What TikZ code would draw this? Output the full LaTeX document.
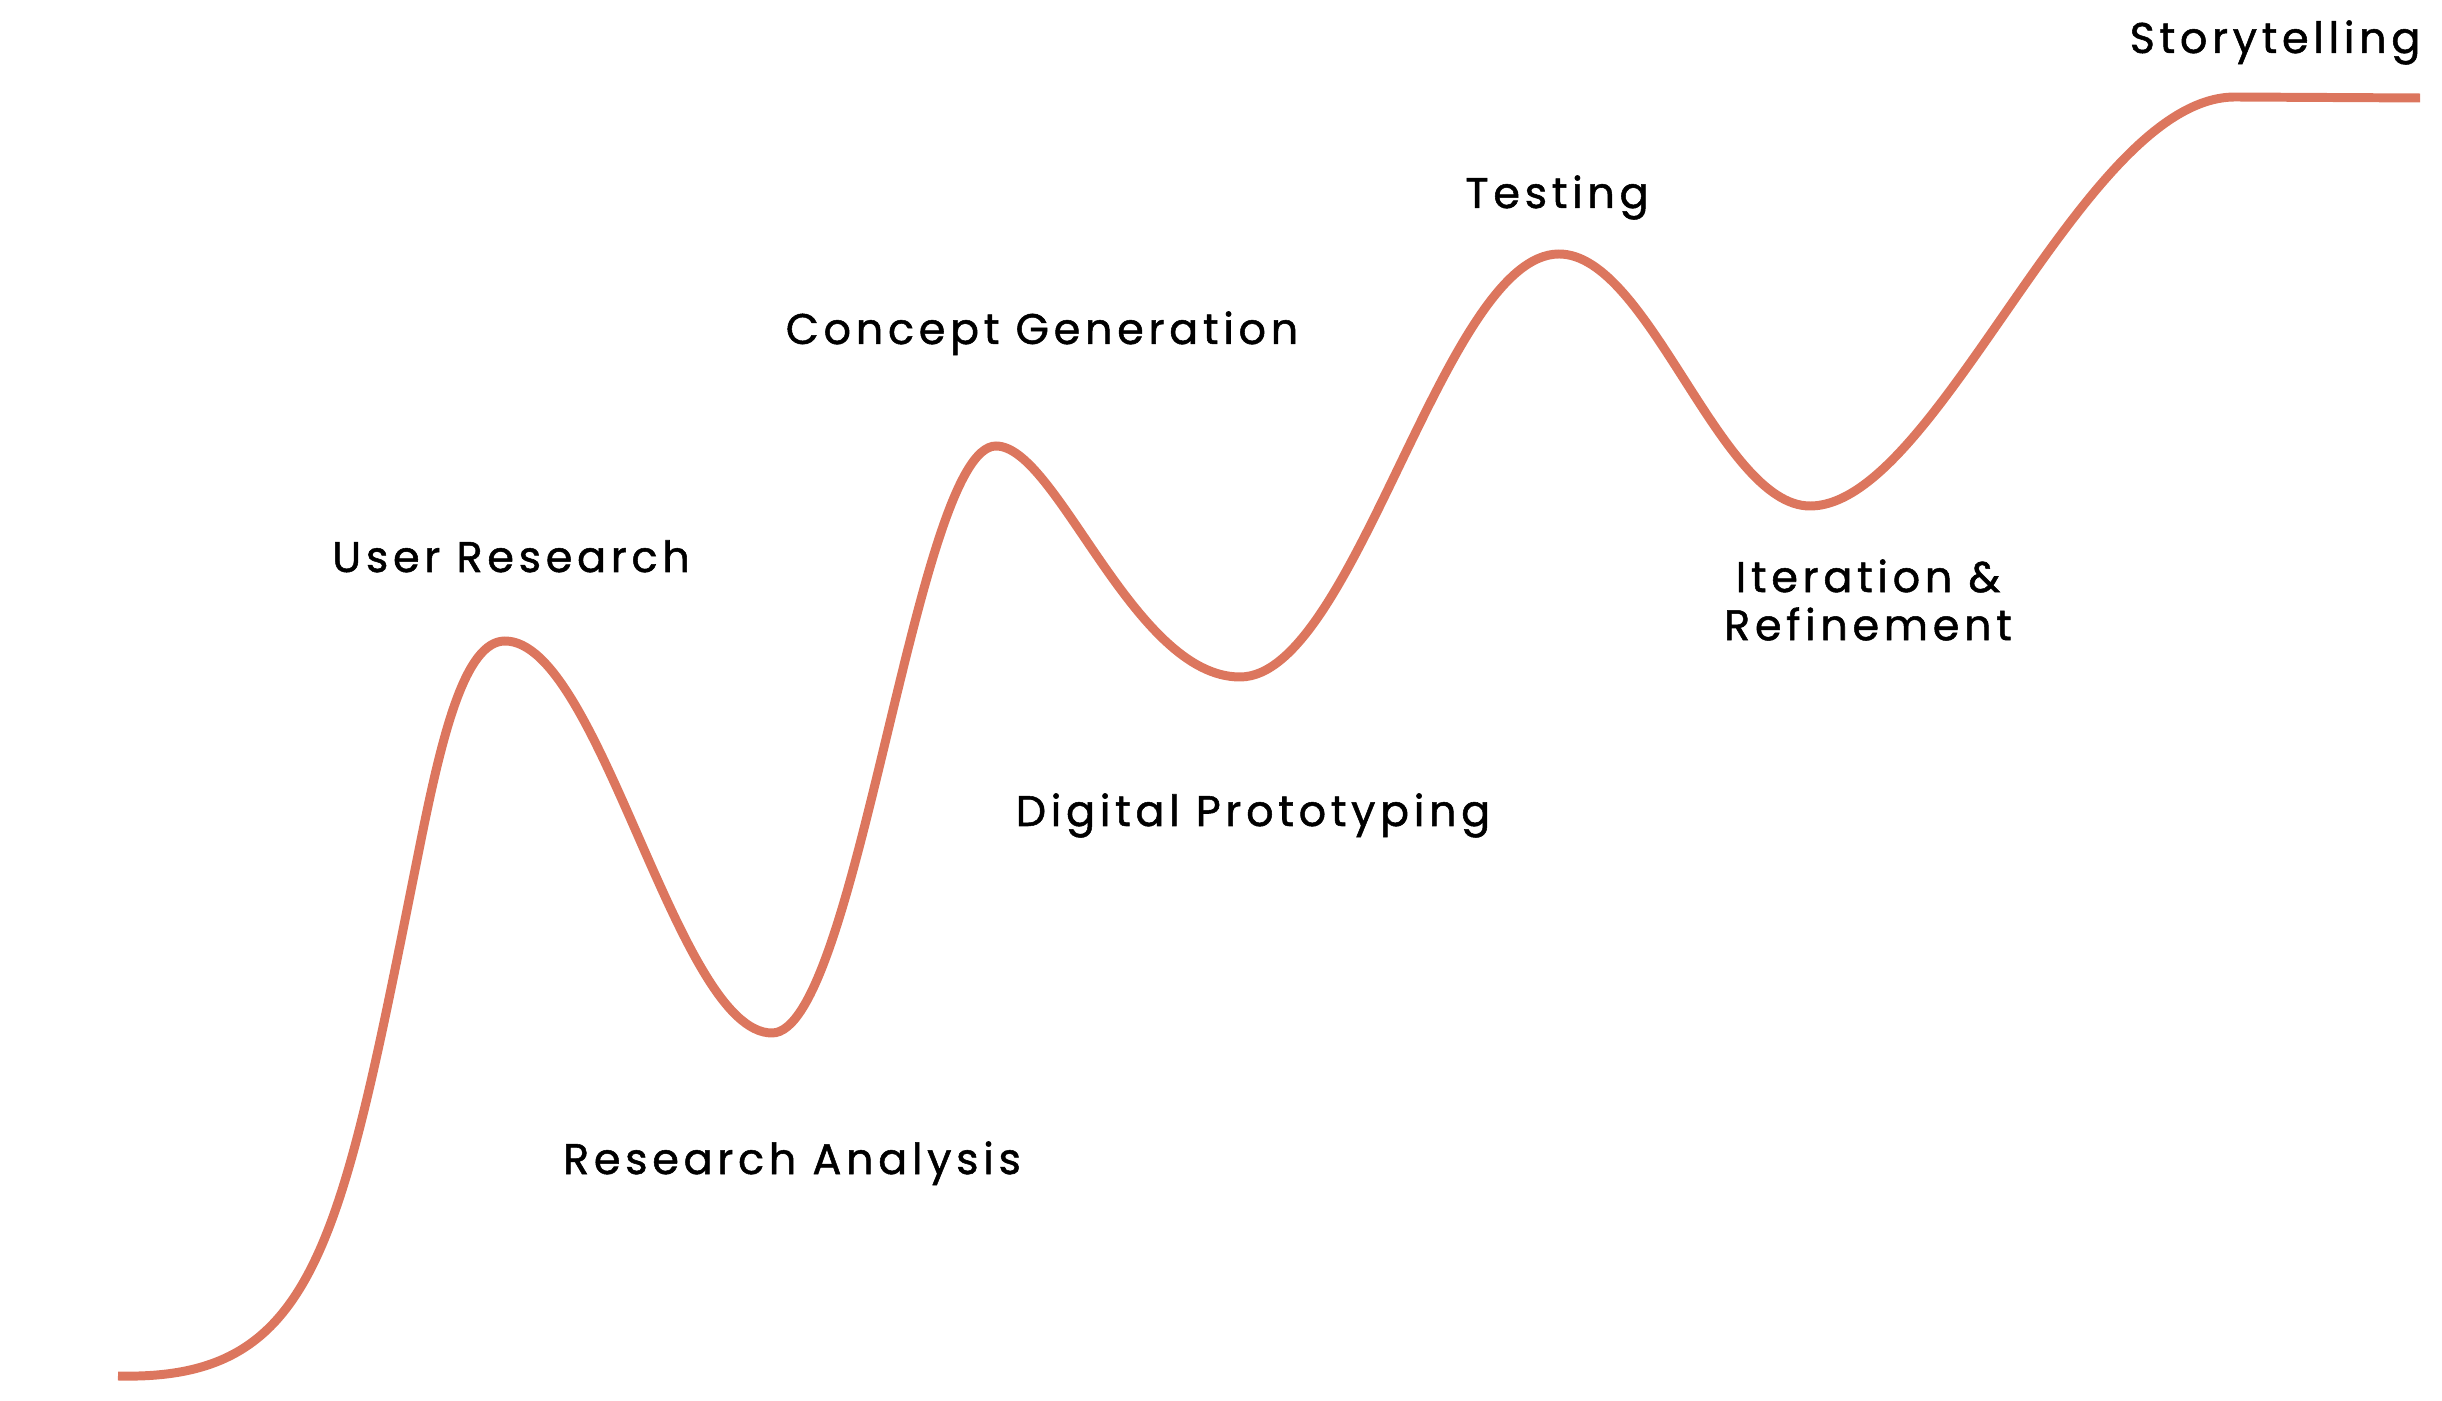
\documentclass[tikz,border=0pt]{standalone}
\usepackage{fontspec}
\setmainfont{Poppins}[LetterSpace=11, FakeBold=1.2]
\usepackage{tikz}
\definecolor{curve}{RGB}{220, 118, 94}
\tikzset{stage/.style={font=\fontsize{12.2}{13.7}\selectfont, text=black, inner sep=0pt, anchor=base}}

\begin{document}
\begin{tikzpicture}[x=0.01cm, y=-0.01cm]
	\useasboundingbox (0,0) rectangle (2442,1401);
	% the path: start, peaks and troughs
	\coordinate (s0) at (118,1376);
	\coordinate (s1) at (420,845);
	\coordinate (p1) at (505,641);
	\coordinate (t1) at (772,1033);
	\coordinate (p2) at (996,446);
	\coordinate (t2) at (1240,677);
	\coordinate (p3) at (1559,254);
	\coordinate (t3) at (1810,506);
	\coordinate (top) at (2235,97);
	\coordinate (e) at (2420,98);
	\draw[curve, line width=2.55pt]
		(s0) .. controls +(200,5) and +(-80,400) .. (s1)
		.. controls +(22,-110) and +(-40,0) .. (p1)
		.. controls +(95,0) and +(-95,0) .. (t1)
		.. controls +(85,0) and +(-80,0) .. (p2)
		.. controls +(61,0) and +(-107,0) .. (t2)
		.. controls +(115,0) and +(-115,0) .. (p3)
		.. controls +(90,0) and +(-90,0) .. (t3)
		.. controls +(128,0) and +(-153,0) .. (top)
		-- (e);

	\node[stage] (story) at (2275,53) {Storytelling};
	\node[stage] (testing) at (1557,208) {Testing};
	\node[stage] (concept) at (1042,344) {Concept Generation};
	\node[stage] (userres) at (511,572) {User Research};
	\node[stage, anchor=center, align=center] (iteration) at (1868,600) {Iteration \&\\Refinement};
	\node[stage] (digiproto) at (1253,826) {Digital Prototyping};
	\node[stage] (resanalysis) at (792,1174) {Research Analysis};
\end{tikzpicture}
\end{document}
